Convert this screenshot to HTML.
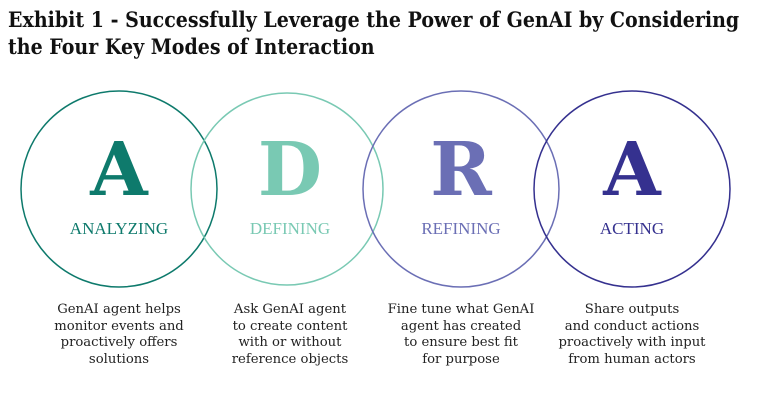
<!DOCTYPE html>
<html><head><style>
body{margin:0;width:768px;height:406px;background:#fff;overflow:hidden;position:relative;font-family:"DejaVu Serif","Liberation Serif",serif}
.t{position:absolute;left:8px;top:6px;font-size:21px;font-weight:bold;line-height:27px;color:#111;white-space:nowrap;transform:scaleX(0.905);transform-origin:0 0}
.d{position:absolute;top:302px;width:170px;text-align:center;font-size:13.2px;line-height:16.5px;color:#222}
</style></head><body>
<div class="t">Exhibit 1 - Successfully Leverage the Power of GenAI by Considering<br>the Four Key Modes of Interaction</div>
<svg width="768" height="406" style="position:absolute;left:0;top:0">
<g fill="none" stroke-width="1.5">
<circle cx="119" cy="189" r="98" stroke="#0e7a6c"/>
<circle cx="287" cy="189" r="96" stroke="#79c9b3"/>
<circle cx="461" cy="189" r="98" stroke="#6b6fb5"/>
<circle cx="632" cy="189" r="98" stroke="#35318f"/>
</g>
<g font-family="DejaVu Serif,Liberation Serif,serif" font-weight="bold" font-size="74" text-anchor="middle">
<text x="119" y="195" fill="#0e7a6c">A</text>
<text x="290" y="195" fill="#79c9b3">D</text>
<text x="461" y="195" fill="#6b6fb5">R</text>
<text x="632" y="195" fill="#35318f">A</text>
</g>
<g font-family="Liberation Serif,serif" font-size="17" text-anchor="middle">
<text x="119" y="234" fill="#0e7a6c">ANALYZING</text>
<text x="290" y="234" fill="#79c9b3">DEFINING</text>
<text x="461" y="234" fill="#6b6fb5">REFINING</text>
<text x="632" y="234" fill="#35318f">ACTING</text>
</g>
</svg>
<div class="d" style="left:34px">GenAI agent helps<br>monitor events and<br>proactively offers<br>solutions</div>
<div class="d" style="left:205px">Ask GenAI agent<br>to create content<br>with or without<br>reference objects</div>
<div class="d" style="left:376px">Fine tune what GenAI<br>agent has created<br>to ensure best fit<br>for purpose</div>
<div class="d" style="left:547px">Share outputs<br>and conduct actions<br>proactively with input<br>from human actors</div>
</body></html>
